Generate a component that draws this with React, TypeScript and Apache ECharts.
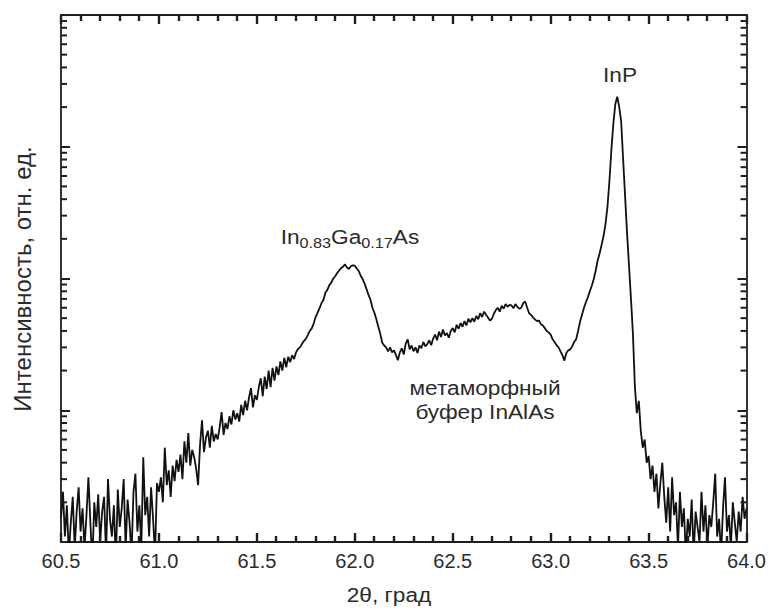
import React, { useEffect, useRef } from "react";
import * as echarts from "echarts";

// 2θ grid: 60.50 .. 64.00, step 0.01
const twoThetaStart = 60.5;
const twoThetaStep = 0.01;

// Intensity (arb. units), one row per 0.1°
const intensity = [
  // 60.50
  15, 24, 11, 19, 8, 14, 22, 9, 17, 26,
  // 60.60
  12, 18, 9, 16, 31, 14, 7, 20, 13, 23,
  // 60.70
  10, 17, 22, 8, 30, 15, 11, 19, 7, 25,
  // 60.80
  13, 18, 30, 9, 21, 14, 8, 24, 33, 12,
  // 60.90
  19, 9, 44, 16, 22, 11, 26, 15, 8, 28,
  // 61.00
  24, 31, 20, 52, 27, 35, 22, 38, 29, 42,
  // 61.10
  34, 46, 30, 58, 40, 67, 38, 50, 44, 36,
  // 61.20
  27, 55, 84, 48, 62, 70, 52, 76, 58, 66,
  // 61.30
  60, 74, 97, 65, 80, 72, 90, 78, 100, 85,
  // 61.40
  95, 82, 110, 92, 118, 100, 125, 147, 105, 130,
  // 61.50
  120, 150, 175, 128, 180, 145, 200, 150, 210, 168,
  // 61.60
  215, 185, 235, 200, 250, 212, 255, 232, 262, 245,
  // 61.70
  275, 292, 300, 318, 335, 348, 372, 400, 418, 455,
  // 61.80
  510, 550, 595, 650, 690, 780, 820, 890, 930, 1000,
  // 61.90
  1040, 1100, 1150, 1200, 1230, 1280, 1210, 1180, 1240, 1260,
  // 62.00
  1250, 1190, 1140, 1050, 990, 915, 830, 750, 690, 600,
  // 62.10
  550, 490, 430, 380, 325, 310, 300, 280, 300, 275,
  // 62.20
  285, 262, 240, 275, 295, 265, 320, 345, 290, 310,
  // 62.30
  280, 300, 272, 310, 295, 330, 305, 318, 340, 312,
  // 62.40
  350, 375, 340, 395, 360, 410, 370, 385, 355, 400,
  // 62.50
  420, 390, 445, 415, 460, 430, 475, 440, 495, 465,
  // 62.60
  500, 470, 520, 490, 545, 510, 560, 530, 505, 480,
  // 62.70
  495, 540, 575, 600, 560, 620, 590, 640, 610, 630,
  // 62.80
  625, 595, 640, 610, 590, 600, 650, 670, 600, 545,
  // 62.90
  530, 505, 490, 475, 480, 450, 440, 420, 400, 390,
  // 63.00
  375, 345, 330, 312, 300, 280, 262, 238, 272, 285,
  // 63.10
  290, 305, 330, 345, 400, 470, 530, 600, 660, 720,
  // 63.20
  800, 880, 990, 1150, 1370, 1550, 1800, 2100, 2600, 3500,
  // 63.30
  5500, 9500, 15000, 21000, 24000, 20000, 15500, 8000, 4200, 2200,
  // 63.40
  1250, 700, 380, 150, 95, 118, 70, 52, 60, 40,
  // 63.50
  45, 30, 38, 24, 33, 18, 28, 40, 22, 14,
  // 63.60
  26, 12, 31, 16, 20, 9, 24, 13, 18, 8,
  // 63.70
  15, 11, 21, 8, 17, 13, 10, 24, 12, 19,
  // 63.80
  9, 16, 13, 20, 33, 11, 15, 8, 18, 31,
  // 63.90
  12, 16, 9, 20, 14, 10, 17, 12, 22, 15, 18,
];

const xMin = 60.5;
const xMax = 64.0;
const xInterval = 0.5;
const yMin = 10;
const yMax = 100000;

// x tick positions (major every 0.5, minor every 0.1)
const xMajorTicks = [60.5, 61.0, 61.5, 62.0, 62.5, 63.0, 63.5, 64.0];
const xMinorTicks = [
  60.6, 60.7, 60.8, 60.9, 61.1, 61.2, 61.3, 61.4, 61.6, 61.7, 61.8, 61.9,
  62.1, 62.2, 62.3, 62.4, 62.6, 62.7, 62.8, 62.9, 63.1, 63.2, 63.3, 63.4,
  63.6, 63.7, 63.8, 63.9,
];
// minor log ticks (2..9 within each decade)
const yMinorTicks = [
  20, 30, 40, 50, 60, 70, 80, 90,
  200, 300, 400, 500, 600, 700, 800, 900,
  2000, 3000, 4000, 5000, 6000, 7000, 8000, 9000,
  20000, 30000, 40000, 50000, 60000, 70000, 80000, 90000,
];

const xTitle = "2θ, град";
const yTitle = "Интенсивность, отн. ед.";

const FONT = "'Liberation Sans', Arial, Helvetica, sans-serif";
const TEXT = "#2b2b2b";
const AXIS = "#1e1e1e";

export default function App() {
  const ref = useRef<HTMLDivElement>(null);

  useEffect(() => {
    if (!ref.current) return;
    const chart = echarts.init(ref.current, null, { renderer: "svg" });
    const lineData = intensity.map((v, i) => [
      +(twoThetaStart + i * twoThetaStep).toFixed(2),
      v,
    ]);

    const axisLine = { show: true, onZero: false, lineStyle: { color: AXIS, width: 1.8 } };
    const majorTick = { show: true, inside: true, length: 9, lineStyle: { color: AXIS, width: 2 } };

    chart.setOption({
      animation: false,
      grid: { left: 61, right: 21, top: 15, bottom: 68, containLabel: false },
      xAxis: [
        {
          type: "value",
          min: xMin,
          max: xMax,
          interval: xInterval,
          position: "bottom",
          splitLine: { show: false },
          axisLine,
          axisTick: { show: false },
          axisLabel: {
            show: true,
            margin: 9,
            fontSize: 20,
            color: TEXT,
            fontFamily: FONT,
            showMinLabel: true,
            showMaxLabel: true,
            formatter: (v: number) => v.toFixed(1),
          },
        },
        {
          type: "value",
          min: xMin,
          max: xMax,
          interval: xInterval,
          position: "top",
          splitLine: { show: false },
          axisLine,
          axisTick: { show: false },
          axisLabel: { show: false },
        },
      ],
      yAxis: [
        {
          type: "log",
          logBase: 10,
          min: yMin,
          max: yMax,
          position: "left",
          splitLine: { show: false },
          axisLine,
          axisTick: majorTick,
          axisLabel: { show: false },
        },
        {
          type: "log",
          logBase: 10,
          min: yMin,
          max: yMax,
          position: "right",
          splitLine: { show: false },
          axisLine,
          axisTick: majorTick,
          axisLabel: { show: false },
        },
      ],
      series: [
        {
          type: "line",
          data: lineData,
          xAxisIndex: 0,
          yAxisIndex: 0,
          showSymbol: false,
          symbol: "none",
          clip: true,
          lineStyle: { color: "#111", width: 1.8 },
        },
      ],
    });

    // ticks placed through the grid's own scales
    const ticks: any[] = [];
    const rect = (x: number, y: number, width: number, height: number) =>
      ticks.push({ type: "rect", z: 50, shape: { x, y, width, height }, style: { fill: AXIS } });

    yMinorTicks.forEach((v) => {
      const pl = chart.convertToPixel({ gridIndex: 0 }, [xMin, v]) as any;
      const pr = chart.convertToPixel({ gridIndex: 0 }, [xMax, v]) as any;
      rect(pl[0], pl[1] - 1, 6, 2);
      rect(pr[0] - 6, pr[1] - 1, 6, 2);
    });
    const TWX = 2.4;
    const addX = (v: number, len: number) => {
      const pb = chart.convertToPixel({ gridIndex: 0 }, [v, yMin]) as any;
      const pt = chart.convertToPixel({ gridIndex: 0 }, [v, yMax]) as any;
      const xb = Math.round(pb[0]);
      rect(xb - TWX / 2, pb[1] - len, TWX, len);
      rect(xb - TWX / 2, pt[1], TWX, len);
    };
    xMajorTicks.forEach((v) => addX(v, 9));
    xMinorTicks.forEach((v) => addX(v, 6));

    chart.setOption({
      graphic: [
        {
          type: "text",
          z: 60,
          x: 389,
          y: 595,
          scaleX: 1.08,
          style: { text: xTitle, fontSize: 21, fontFamily: FONT, fill: TEXT, textAlign: "center", textVerticalAlign: "middle" },
        },
        {
          type: "text",
          z: 60,
          x: 22,
          y: 279,
          rotation: Math.PI / 2,
          style: { text: yTitle, fontSize: 24, fontFamily: FONT, fill: TEXT, textAlign: "center", textVerticalAlign: "middle" },
        },
        {
          type: "text",
          z: 60,
          x: 620,
          y: 75,
          scaleX: 1.08,
          style: { text: "InP", fontSize: 21, fontFamily: FONT, fill: TEXT, textAlign: "center", textVerticalAlign: "middle" },
        },
        {
          type: "text",
          z: 60,
          x: 350,
          y: 237,
          scaleX: 1.08,
          style: {
            text: "{m|In}{s|0.83}{m|Ga}{s|0.17}{m|As}",
            fontFamily: FONT,
            fill: TEXT,
            textAlign: "center",
            textVerticalAlign: "middle",
            rich: {
              m: { fontSize: 21, fontFamily: FONT, fill: TEXT, lineHeight: 26, verticalAlign: "middle" },
              s: { fontSize: 15, fontFamily: FONT, fill: TEXT, lineHeight: 15, verticalAlign: "bottom" },
            },
          },
        },
        {
          type: "text",
          z: 60,
          x: 485,
          y: 400,
          scaleX: 1.08,
          style: {
            text: "метаморфный\nбуфер InAlAs",
            fontSize: 21,
            lineHeight: 24,
            fontFamily: FONT,
            fill: TEXT,
            textAlign: "center",
            textVerticalAlign: "middle",
          },
        },
        ...ticks,
      ],
    });
    return () => chart.dispose();
  }, []);

  return (
    <div
      ref={ref}
      style={{ position: "fixed", left: 0, top: 0, width: 769, height: 610, background: "#fff" }}
    />
  );
}
